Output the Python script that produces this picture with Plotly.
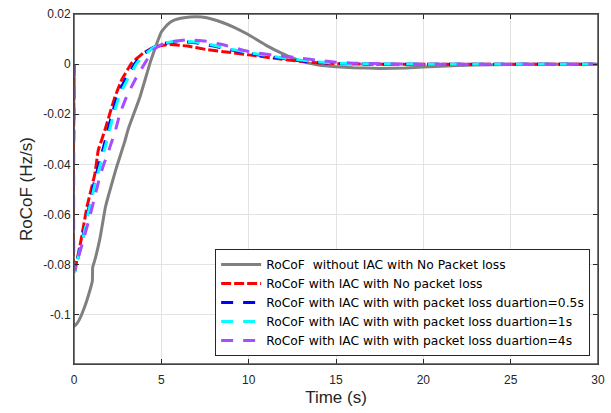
import plotly.graph_objects as go

# ---- data ----
t_gray = [0, 0.0, 0.1, 0.3, 0.6, 0.9, 1.05, 1.07, 1.2, 1.5, 1.8, 2.07, 2.44, 2.9, 3.1, 3.78, 4.35, 4.65, 5.0, 5.35, 5.7, 6.3, 7.0, 7.6, 8.5, 9.2, 10.0, 11.0, 12.0, 13.0, 14.0, 15.0, 16.0, 17.5, 19.0, 20.0, 22.0, 24.0, 26.0, 28.0, 30.0]
v_gray = [0, -0.1045, -0.104, -0.102, -0.097, -0.0905, -0.0865, -0.081, -0.078, -0.069, -0.057, -0.050, -0.041, -0.031, -0.026, -0.013, 0.0004, 0.0065, 0.0128, 0.0158, 0.0175, 0.0185, 0.0189, 0.0185, 0.0166, 0.0146, 0.0117, 0.0075, 0.0040, 0.0012, -0.0003, -0.0010, -0.0014, -0.0017, -0.0015, -0.0011, -0.0005, -0.0002, 0, 0, 0]

t_red = [0, 0, 0.05, 0.13, 0.4, 0.74, 1.2, 1.39, 1.58, 1.77, 2.06, 2.35, 2.73, 3.3, 3.96, 4.6, 5.4, 6.5, 7.6, 9.0, 10.0, 11.5, 13.0, 14.0, 15.0, 17.0, 20.0, 25.0, 30.0]
v_red = [0, -0.0825, -0.0825, -0.0795, -0.0703, -0.057, -0.0436, -0.0343, -0.0303, -0.0263, -0.0195, -0.013, -0.0063, 0.0004, 0.0044, 0.0068, 0.0078, 0.0072, 0.0058, 0.0046, 0.0037, 0.0023, 0.0011, 0.0005, 0.0002, 0.0, 0, 0, 0]

t_blue = [0, 0, 0.05, 0.2, 0.5, 0.8, 1.2, 1.68, 2.16, 2.5, 2.92, 3.5, 4.0, 4.6, 5.2, 6.0, 7.0, 8.0, 9.0, 10.0, 11.5, 13.0, 14.0, 15.0, 17.0, 20.0, 25.0, 30.0]
v_blue = [0, -0.0825, -0.0825, -0.078, -0.069, -0.059, -0.046, -0.0335, -0.0205, -0.0125, -0.0063, 0.0004, 0.0042, 0.0068, 0.0083, 0.009, 0.0085, 0.0072, 0.0057, 0.0043, 0.0027, 0.0013, 0.0007, 0.0003, 0, 0, 0, 0]

t_cyan = [0, 0, 0.05, 0.2, 0.5, 0.8, 1.2, 1.75, 2.25, 2.6, 3.05, 3.6, 4.1, 4.6, 5.2, 6.0, 7.0, 8.0, 9.0, 10.0, 11.5, 13.0, 14.0, 15.0, 17.0, 20.0, 25.0, 30.0]
v_cyan = [0, -0.0825, -0.0825, -0.078, -0.070, -0.060, -0.048, -0.034, -0.0205, -0.0125, -0.0063, 0.0004, 0.0042, 0.0068, 0.0085, 0.0093, 0.0088, 0.0075, 0.006, 0.0046, 0.003, 0.0016, 0.0009, 0.0004, 0.0001, 0, 0, 0]

t_purple = [0, 0, 0.05, 0.2, 0.5, 0.82, 1.15, 1.45, 1.7, 1.92, 2.06, 2.35, 2.64, 3.01, 3.49, 4.06, 4.55, 5.0, 5.6, 6.45, 7.5, 8.5, 10.0, 11.5, 13.0, 14.0, 15.0, 16.0, 18.0, 20.0, 25.0, 30.0]
v_purple = [0, -0.081, -0.082, -0.0783, -0.071, -0.063, -0.054, -0.0456, -0.040, -0.036, -0.033, -0.027, -0.0195, -0.013, -0.0063, 0.0004, 0.0057, 0.0078, 0.009, 0.0097, 0.0092, 0.0078, 0.005, 0.0035, 0.0024, 0.0015, 0.0008, 0.0004, 0.0001, 0, 0, 0]

names = [
    "RoCoF  without IAC with No Packet loss",
    "RoCoF with IAC with No packet loss",
    "RoCoF with IAC with with packet loss duartion=0.5s",
    "RoCoF with IAC with with packet loss duartion=1s",
    "RoCoF with IAC with with packet loss duartion=4s",
]
y_tickvals = [-0.1, -0.08, -0.06, -0.04, -0.02, 0, 0.02]
y_ticktext = ["-0.1", "-0.08", "-0.06", "-0.04", "-0.02", "0", "0.02"]
x_tickvals = [0, 5, 10, 15, 20, 25, 30]

fig = go.Figure()
series = [
    (t_gray, v_gray, "#808080", "solid"),
    (t_red, v_red, "#FF0000", "10px,3px"),
    (t_blue, v_blue, "#0000FF", "12px,10px"),
    (t_cyan, v_cyan, "#00FFFF", "12px,10px"),
    (t_purple, v_purple, "#A64DFF", "12px,10px"),
]
for (t, v, c, d), n in zip(series, names):
    fig.add_trace(go.Scatter(x=t, y=v, mode="lines", name=n,
                             line=dict(color=c, width=3, dash=d, shape="spline", smoothing=0.3)))

axis_common = dict(showline=True, linecolor="#262626", linewidth=1, mirror="allticks",
                   ticks="inside", ticklen=5, tickcolor="#262626", automargin=False,
                   ticklabeloverflow="allow",
                   showgrid=True, gridcolor="#e3e3e3", gridwidth=1, zeroline=False,
                   tickfont=dict(family="Liberation Sans, Arial", size=12, color="#262626"))

fig.update_xaxes(range=[0, 30], tickvals=x_tickvals, ticklabelstandoff=5,
                 title=dict(text="Time (s)", font=dict(family="Liberation Sans, Arial", size=17, color="#262626"), standoff=4),
                 **axis_common)
fig.update_yaxes(range=[-0.1196, 0.02], tickvals=y_tickvals, ticktext=y_ticktext,
                 title=dict(text="RoCoF (Hz/s)", font=dict(family="Liberation Sans, Arial", size=17, color="#262626"), standoff=6),
                 **axis_common)

# axes box (MATLAB "box on")
fig.add_shape(type="rect", xref="x domain", yref="y domain", x0=0, x1=1, y0=0, y1=1,
              line=dict(color="#4d4d4d", width=1.5), fillcolor="rgba(0,0,0,0)", layer="above")

fig.update_layout(
    width=611, height=413,
    margin=dict(l=74, r=13, t=14, b=49),
    paper_bgcolor="white", plot_bgcolor="white",
    font=dict(family="Liberation Sans, Arial", color="#262626"),
    legend=dict(x=0.985, y=0.023, xanchor="right", yanchor="bottom",
                bgcolor="white", bordercolor="#262626", borderwidth=1,
                font=dict(family="DejaVu Sans", size=12.3, color="#000000"),
                itemwidth=40, tracegroupgap=0),
    showlegend=True,
)

# remove the browser's default 8px body margin so the figure fills the window
fig.write_html("out.html", config={"displayModeBar": False},
               post_script="document.body.style.margin='0px';document.body.style.overflow='hidden';")
